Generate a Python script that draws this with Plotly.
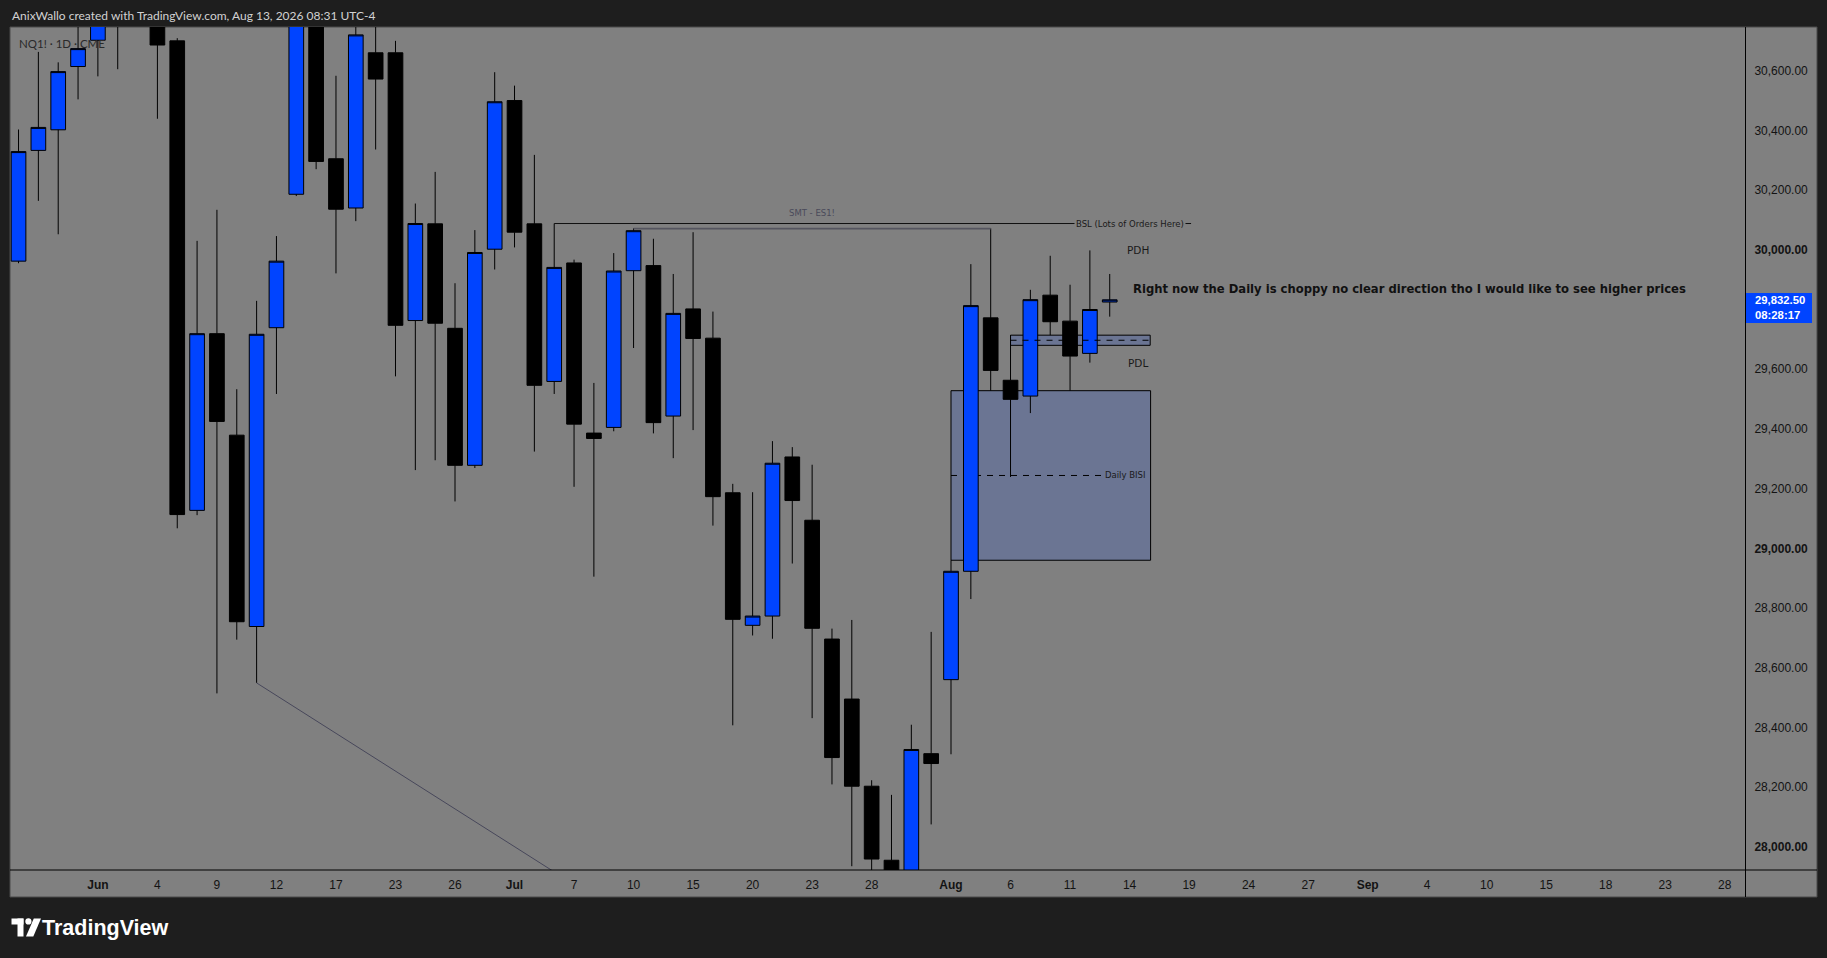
import pandas as pd
import plotly.graph_objects as go

# ---------------- data ----------------
holidays = ["2026-06-19", "2026-07-03", "2026-09-07"]
trading_days = pd.bdate_range("2026-05-26", "2026-09-30")
trading_days = trading_days[~trading_days.isin(pd.to_datetime(holidays))]
day_str = [d.strftime("%Y-%m-%d") for d in trading_days]

# daily candles, 2026-05-26 .. 2026-08-13
opens = [29962, 30333, 30402, 30614, 30702, 30780, 30850, 30752, 30700, 29127,
         29719, 29379, 28738, 29739, 30186, 30800, 30305, 30140, 30660, 30660,
         29763, 30087, 29737, 29278, 30002, 30500, 30087, 29559, 29956, 29386,
         29405, 29930, 29947, 29443, 29802, 29704, 29186, 28742, 28773, 29306,
         29094, 28696, 28495, 28203, 27955, 27880, 28312, 28560, 28923, 29772,
         29563, 29510, 29848, 29761, 29653, 29825]
highs = [30403, 30663, 30628, 30790, 30860, 30900, 30950, 30790, 30709, 30030,
         30134, 29533, 29829, 30046, 30850, 30850, 30583, 30770, 30790, 30700,
         30155, 30261, 29888, 30066, 30595, 30550, 30318, 30088, 29967, 29554,
         29989, 30072, 30037, 29919, 30059, 29793, 29216, 29188, 29359, 29339,
         29280, 28731, 28760, 28223, 28174, 28409, 28720, 28960, 29952, 30072,
         29714, 29866, 29980, 29883, 29998, 29919]
lows = [29955, 30164, 30052, 30504, 30581, 30605, 30770, 30439, 29067, 29111,
        28514, 28694, 28549, 29517, 30180, 30270, 29921, 30096, 30336, 29576,
        29262, 29295, 29157, 29269, 29934, 30008, 29324, 29517, 29206, 28905,
        29392, 29671, 29385, 29302, 29396, 29076, 28407, 28708, 28697, 28949,
        28431, 28209, 27935, 27880, 27850, 27840, 28075, 28310, 28830, 29528,
        29239, 29453, 29714, 29528, 29622, 29776]
closes = [30329, 30410, 30597, 30674, 30800, 30850, 30800, 30686, 29113, 29719,
          29425, 28754, 29717, 29962, 30800, 30296, 30136, 30720, 30572, 29747,
          30088, 29754, 29278, 29991, 30496, 30059, 29546, 29941, 29416, 29368,
          29929, 30064, 29421, 29787, 29703, 29173, 28762, 28773, 29285, 29160,
          28732, 28299, 28203, 27959, 27900, 28326, 28279, 28923, 29813, 29596,
          29499, 29833, 29759, 29644, 29800, 29832.5]

tick_dates = ["2026-06-01", "2026-06-04", "2026-06-09", "2026-06-12", "2026-06-17",
              "2026-06-23", "2026-06-26", "2026-07-01", "2026-07-07", "2026-07-10",
              "2026-07-15", "2026-07-20", "2026-07-23", "2026-07-28", "2026-08-03",
              "2026-08-06", "2026-08-11", "2026-08-14", "2026-08-19", "2026-08-24",
              "2026-08-27", "2026-09-01", "2026-09-04", "2026-09-10", "2026-09-15",
              "2026-09-18", "2026-09-23", "2026-09-28"]
tick_labels = ["<b>Jun</b>", "4", "9", "12", "17", "23", "26", "<b>Jul</b>", "7", "10",
               "15", "20", "23", "28", "<b>Aug</b>", "6", "11", "14", "19", "24",
               "27", "<b>Sep</b>", "4", "10", "15", "18", "23", "28"]
# 29,800 is hidden behind the last-price tag in the reference
price_ticks = [28000, 28200, 28400, 28600, 28800, 29000, 29200, 29400,
               29600, 30000, 30200, 30400, 30600]

last_price = 29832.5
countdown = "08:28:17"

# drawings (date, price)
bsl_start, bsl_end, bsl_level = "2026-07-06", 59.1, 30088
smt_start, smt_end, smt_level = "2026-07-10", "2026-08-05", 30071
trend_start, trend_start_price, trend_slope = "2026-06-11", 28549, -42.2
bisi_start, bisi_end_pos, bisi_low, bisi_high = "2026-08-03", 57.06, 28960, 29528
zone_start, zone_end_pos, zone_low, zone_high = "2026-08-06", 57.04, 29680, 29714
pdh_level, pdl_level = 30000, 29622

# ---------------- geometry ----------------
W, H = 1827, 958
PL, PR, PT, PB = 10, 1745, 27, 870
BG = "#808080"
DARK = "#1e1e1e"


def pxx(xp):
    return (xp - PL) / (PR - PL)


def pxy(yp):
    return 1 - (yp - PT) / (PB - PT)


pos = {d: i for i, d in enumerate(day_str)}
xs = list(range(len(opens)))

fig = go.Figure()
fig.add_trace(go.Candlestick(
    x=xs, open=opens, high=highs, low=lows, close=closes,
    increasing=dict(line=dict(color="black", width=1), fillcolor="#0044ff"),
    decreasing=dict(line=dict(color="black", width=1), fillcolor="#000000"),
    whiskerwidth=0, hoverinfo="skip", showlegend=False,
))

# trend line from the Jun 11 low
t0 = pos[trend_start]
t1 = t0 + 20
fig.add_trace(go.Scatter(x=[t0, t1], y=[trend_start_price, trend_start_price + trend_slope * (t1 - t0)],
                         mode="lines", line=dict(color="#47475a", width=1),
                         hoverinfo="skip", showlegend=False))
# SMT line
fig.add_trace(go.Scatter(x=[pos[smt_start], pos[smt_end]], y=[smt_level, smt_level],
                         mode="lines", line=dict(color="#55555f", width=1.6),
                         hoverinfo="skip", showlegend=False))
# BSL line
fig.add_trace(go.Scatter(x=[pos[bsl_start], bsl_end], y=[bsl_level, bsl_level],
                         mode="lines", line=dict(color="#101010", width=1),
                         hoverinfo="skip", showlegend=False))

shapes = []
# chart frame
shapes.append(dict(type="rect", xref="paper", yref="paper", x0=pxx(10), x1=pxx(1817),
                   y0=pxy(27), y1=pxy(897), fillcolor=BG, line=dict(color="#4a4a4a", width=1),
                   layer="below"))
# BISI box
bx0 = pos[bisi_start]
shapes.append(dict(type="rect", xref="x", yref="y", x0=bx0, x1=bisi_end_pos,
                   y0=bisi_low, y1=bisi_high, fillcolor="#6b7593",
                   line=dict(color="black", width=1), layer="below"))
bisi_mid = (bisi_low + bisi_high) / 2
shapes.append(dict(type="line", xref="x", yref="y", x0=bx0, x1=54.75,
                   y0=bisi_mid, y1=bisi_mid, line=dict(color="black", width=1, dash="6px,6px"),
                   layer="below"))
# small zone
zx0 = pos[zone_start]
shapes.append(dict(type="rect", xref="x", yref="y", x0=zx0, x1=zone_end_pos,
                   y0=zone_low, y1=zone_high, fillcolor="#6b7593",
                   line=dict(color="black", width=1), layer="below"))
zmid = (zone_low + zone_high) / 2
shapes.append(dict(type="line", xref="x", yref="y", x0=zx0, x1=zone_end_pos,
                   y0=zmid, y1=zmid, line=dict(color="black", width=1, dash="6px,6px"),
                   layer="above"))
# axis separators
shapes.append(dict(type="line", xref="paper", yref="paper", x0=pxx(10), x1=pxx(1817),
                   y0=pxy(870), y1=pxy(870), line=dict(color="black", width=1), layer="above"))
shapes.append(dict(type="line", xref="paper", yref="paper", x0=pxx(1745.5), x1=pxx(1745.5),
                   y0=pxy(27), y1=pxy(897), line=dict(color="black", width=1), layer="above"))
# last price tag
shapes.append(dict(type="rect", xref="paper", yref="paper", x0=pxx(1746), x1=pxx(1812),
                   y0=pxy(293), y1=pxy(323), fillcolor="#0044ff", line=dict(width=0),
                   layer="above"))
# TradingView logo
shapes.append(dict(type="rect", xref="paper", yref="paper", x0=pxx(11.5), x1=pxx(23.5),
                   y0=pxy(918.5), y1=pxy(924.5), fillcolor="white", line=dict(width=0)))
shapes.append(dict(type="rect", xref="paper", yref="paper", x0=pxx(17.5), x1=pxx(23.5),
                   y0=pxy(918.5), y1=pxy(936.5), fillcolor="white", line=dict(width=0)))
shapes.append(dict(type="circle", xref="paper", yref="paper", x0=pxx(25.3), x1=pxx(31.5),
                   y0=pxy(918.3), y1=pxy(924.5), fillcolor="white", line=dict(width=0)))
path = "M {} {} L {} {} L {} {} L {} {} Z".format(
    pxx(33.8), pxy(918.5), pxx(41), pxy(918.5), pxx(33.3), pxy(936.5), pxx(26), pxy(936.5))
shapes.append(dict(type="path", xref="paper", yref="paper", path=path,
                   fillcolor="white", line=dict(width=0)))

ann = []
ann.append(dict(xref="paper", yref="paper", x=pxx(10), y=pxy(15), xanchor="left", yanchor="middle",
                text="AnixWallo created with TradingView.com, Aug 13, 2026 08:31 UTC-4",
                showarrow=False, font=dict(family="Lato", size=12, color="#d2d2d2")))
ann.append(dict(xref="paper", yref="paper", x=pxx(17), y=pxy(43), xanchor="left", yanchor="middle",
                text="NQ1! · 1D · CME", showarrow=False,
                font=dict(family="Lato", size=11.5, color="#2a2a2a")))
ann.append(dict(xref="paper", yref="paper", x=pxx(40), y=pxy(928), xanchor="left", yanchor="middle",
                text="<b>TradingView</b>", showarrow=False,
                font=dict(family="Liberation Sans", size=21.5, color="white")))
ann.append(dict(xref="paper", yref="paper", x=pxx(1753), y=pxy(308), xanchor="left", yanchor="middle",
                text="<b>29,832.50</b><br><b>" + countdown + "</b>", showarrow=False, align="left",
                font=dict(family="Liberation Sans", size=11.3, color="white")))
ann.append(dict(xref="x", yref="y", x=40.0, y=30124, text="SMT - ES1!", showarrow=False,
                font=dict(family="DejaVu Sans", size=8.5, color="#4a4a5a")))
ann.append(dict(xref="x", yref="y", x=56.0, y=bsl_level, text="BSL (Lots of Orders Here)",
                showarrow=False, bgcolor=BG, borderpad=1,
                font=dict(family="DejaVu Sans", size=8.5, color="#1a1a1a")))
ann.append(dict(xref="x", yref="y", x=56.4, y=pdh_level, text="PDH", showarrow=False,
                font=dict(family="DejaVu Sans", size=10.5, color="#1a1a1a")))
ann.append(dict(xref="x", yref="y", x=56.4, y=pdl_level, text="PDL", showarrow=False,
                font=dict(family="DejaVu Sans", size=10.5, color="#1a1a1a")))
ann.append(dict(xref="x", yref="y", x=56.86, y=bisi_mid, xanchor="right", text="Daily BISI",
                showarrow=False, font=dict(family="DejaVu Sans", size=8.5, color="#1a1a1a")))
ann.append(dict(xref="x", yref="y", x=56.05, y=29869, xanchor="left",
                text="<b>Right now the Daily is choppy no clear direction tho I would like to see higher prices</b>",
                showarrow=False, font=dict(family="DejaVu Sans", size=11.6, color="#111111")))

fig.update_layout(
    width=W, height=H,
    margin=dict(l=PL, r=W - PR, t=PT, b=H - PB, pad=0),
    paper_bgcolor=DARK, plot_bgcolor=BG,
    font=dict(family="Liberation Sans, Arial, sans-serif", size=12, color="#131313"),
    showlegend=False, hovermode=False, dragmode=False,
    boxgap=0.26, boxgroupgap=0,
    shapes=shapes, annotations=ann,
)
fig.update_xaxes(
    range=[-0.43, 87.02], showgrid=False, zeroline=False, showline=False,
    tickmode="array", tickvals=[pos[d] for d in tick_dates], ticktext=tick_labels,
    ticks="outside", ticklen=4, tickcolor="rgba(0,0,0,0)",
    tickfont=dict(family="Liberation Sans", size=12, color="#131313"),
    rangeslider=dict(visible=False), fixedrange=True,
)
fig.update_yaxes(
    range=[27922.3, 30746.4], side="right", showgrid=False, zeroline=False, showline=False,
    tickmode="array", tickvals=price_ticks,
    ticktext=[("<b>{:,.2f}</b>" if p % 1000 == 0 else "{:,.2f}").format(p) for p in price_ticks],
    ticks="outside", ticklen=6, tickcolor="rgba(0,0,0,0)",
    tickfont=dict(family="Liberation Sans", size=12, color="#131313"), fixedrange=True,
)

fig.write_html("out.html", config={"displayModeBar": False},
               post_script="document.body.style.margin='0';document.body.style.overflow='hidden';")
